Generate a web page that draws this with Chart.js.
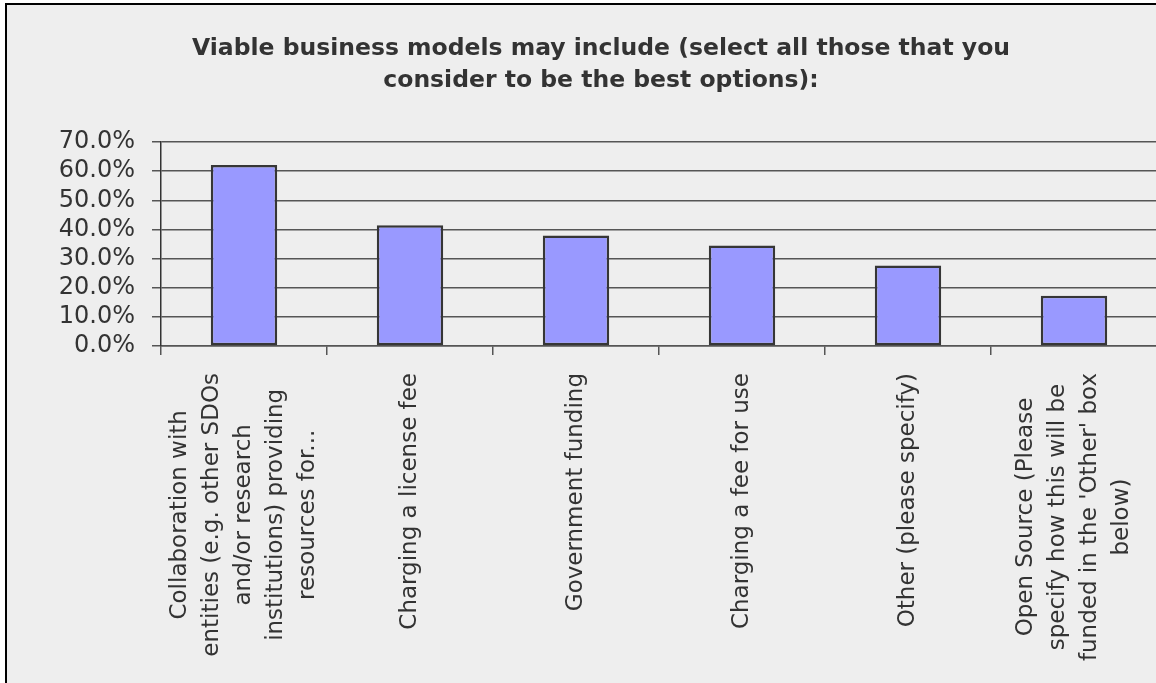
<!DOCTYPE html>
<html>
<head>
<meta charset="utf-8">
<script src="https://cdn.jsdelivr.net/npm/chart.js@4"></script>
<style>
  html, body { margin: 0; padding: 0; background: #fff; overflow: hidden; }
  #frame {
    position: absolute; left: 5px; top: 3px;
    width: 1186px; height: 678px;
    border-left: 2px solid #000; border-top: 2px solid #000;
    background: #eeeeee;
  }
  #frame canvas { display: block; }
</style>
</head>
<body>
<div id="frame"><canvas id="myChart" width="1186" height="678"></canvas></div>
<script>
// data
const titleLines = ["Viable business models may include (select all those that you",
                    "consider to be the best options):"];
const categories = [
    ["Collaboration with", "entities (e.g. other SDOs", "and/or research", "institutions) providing", "resources for..."],
    ["Charging a license fee"],
    ["Government funding"],
    ["Charging a fee for use"],
    ["Other (please specify)"],
    ["Open Source (Please", "specify how this will be", "funded in the 'Other' box", "below)"]
];
const responses = [62.1, 41.4, 37.9, 34.5, 27.6, 17.2];
const yMin = 0, yMax = 70, yStep = 10;

const textColor = '#333333';

// two-line bold title, centred over the whole frame
const titlePlugin = {
    id: 'titlePlugin',
    afterDraw(chart) {
        const ctx = chart.ctx;
        ctx.save();
        ctx.font = 'bold 23.5px "DejaVu Sans"';
        ctx.fillStyle = textColor;
        ctx.textAlign = 'center';
        ctx.textBaseline = 'alphabetic';
        titleLines.forEach((line, i) => ctx.fillText(line, 594, 50 + i * 32));
        ctx.restore();
    }
};

// vertical category labels: block pinned under the axis, lines centred in the block
const xLabelPlugin = {
    id: 'xLabelPlugin',
    afterDraw(chart) {
        const ctx = chart.ctx;
        const xs = chart.scales.x;
        const top = xs.top + 27;
        ctx.save();
        ctx.font = '23px "DejaVu Sans"';
        ctx.fillStyle = textColor;
        ctx.textAlign = 'center';
        ctx.textBaseline = 'middle';
        categories.forEach((lines, i) => {
            const x = xs.getPixelForValue(i);
            const w = Math.max(...lines.map(l => ctx.measureText(l).width));
            ctx.save();
            ctx.translate(x, top);
            ctx.rotate(-Math.PI / 2);
            lines.forEach((l, j) => ctx.fillText(l, -w / 2, (j - (lines.length - 1) / 2) * 32));
            ctx.restore();
        });
        ctx.restore();
    }
};

const ctx = document.getElementById('myChart');
const myChart = new Chart(ctx, {
    type: 'bar',
    data: {
        labels: categories,
        datasets: [{
            data: responses,
            backgroundColor: '#9999ff',
            borderColor: '#363636',
            borderWidth: 2.5,
            borderSkipped: false,
            barPercentage: 0.4,
            categoryPercentage: 1
        }]
    },
    options: {
        responsive: false,
        animation: false,
        layout: { padding: { left: 0, top: 137, right: 36, bottom: 0 } },
        plugins: {
            legend: { display: false },
            title: { display: false },
            tooltip: { enabled: false }
        },
        scales: {
            x: {
                ticks: { display: false },
                grid: { drawOnChartArea: false, drawTicks: true, tickLength: 9, color: '#555555', lineWidth: 1.5 },
                border: { display: true, color: '#555555', width: 1.5 },
                afterFit: s => { s.height = 337; }
            },
            y: {
                min: yMin,
                max: yMax,
                ticks: {
                    stepSize: yStep,
                    autoSkip: false,
                    padding: 17,
                    color: textColor,
                    font: { family: 'DejaVu Sans', size: 24, lineHeight: 1 },
                    callback: v => v.toFixed(1) + '%'
                },
                grid: { color: '#555555', lineWidth: 1.5, tickLength: 9 },
                border: { display: true, color: '#333333', width: 1.5 },
                afterFit: s => { s.width = 154; }
            }
        }
    },
    plugins: [titlePlugin, xLabelPlugin]
});
</script>
</body>
</html>
